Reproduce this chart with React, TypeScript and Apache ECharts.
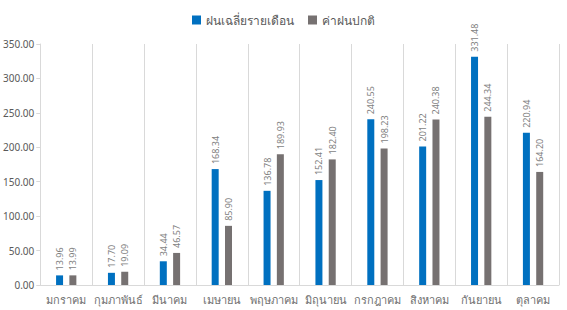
import React, { useEffect, useRef } from "react";
import * as echarts from "echarts";

const months = ["มกราคม", "กุมภาพันธ์", "มีนาคม", "เมษายน", "พฤษภาคม", "มิถุนายน", "กรกฎาคม", "สิงหาคม", "กันยายน", "ตุลาคม"];
const avgRain = [13.96, 17.7, 34.44, 168.34, 136.78, 152.41, 240.55, 201.22, 331.48, 220.94];
const normalRain = [13.99, 19.09, 46.57, 85.9, 189.93, 182.4, 198.23, 240.38, 244.34, 164.2];
const seriesNames = ["ฝนเฉลี่ยรายเดือน", "ค่าฝนปกติ"];

export default function App() {
  const ref = useRef<HTMLDivElement>(null);
  useEffect(() => {
    if (!ref.current) return;
    const chart = echarts.init(ref.current, null, { renderer: "svg" });
    const font = "'Noto Sans', 'DejaVu Sans', sans-serif";
    const label = {
      show: true,
      position: "top",
      rotate: 90,
      align: "left",
      verticalAlign: "middle",
      distance: 5,
      color: "#7f7f7f",
      fontSize: 9,
      fontFamily: font,
      formatter: (p: any) => p.value.toFixed(2),
    };
    chart.setOption({
      animation: false,
      textStyle: { fontFamily: font },
      legend: {
        top: 9,
        left: "center",
        itemWidth: 9,
        itemHeight: 9,
        itemGap: 14,
        icon: "rect",
        textStyle: { color: "#595959", fontSize: 12, fontFamily: font },
        data: seriesNames,
      },
      grid: { left: 38, right: 8, top: 44, bottom: 25, containLabel: false },
      xAxis: {
        type: "category",
        data: months,
        axisLine: { lineStyle: { color: "#d9d9d9" } },
        axisTick: { show: false },
        splitLine: { show: true, interval: 0, lineStyle: { color: "#d9d9d9" } },
        axisLabel: { color: "#6f6f6f", fontSize: 11, margin: 9, interval: 0, fontFamily: font },
      },
      yAxis: {
        type: "value",
        min: 0,
        max: 350,
        interval: 50,
        axisLine: { show: true, lineStyle: { color: "#d9d9d9" } },
        axisTick: { show: true, length: 4, lineStyle: { color: "#d9d9d9" } },
        splitLine: { show: false },
        axisLabel: {
          color: "#595959",
          fontSize: 10,
          margin: 6,
          fontFamily: font,
          formatter: (v: number) => v.toFixed(2),
        },
      },
      series: [
        {
          name: seriesNames[0],
          type: "bar",
          data: avgRain,
          barWidth: 7,
          barGap: "90%",
          itemStyle: { color: "#0070C0" },
          label,
        },
        {
          name: seriesNames[1],
          type: "bar",
          data: normalRain,
          barWidth: 7,
          itemStyle: { color: "#767171" },
          label,
        },
      ],
    });
    return () => chart.dispose();
  }, []);
  return <div ref={ref} style={{ width: 567, height: 310, position: "absolute", left: 0, top: 0 }} />;
}
